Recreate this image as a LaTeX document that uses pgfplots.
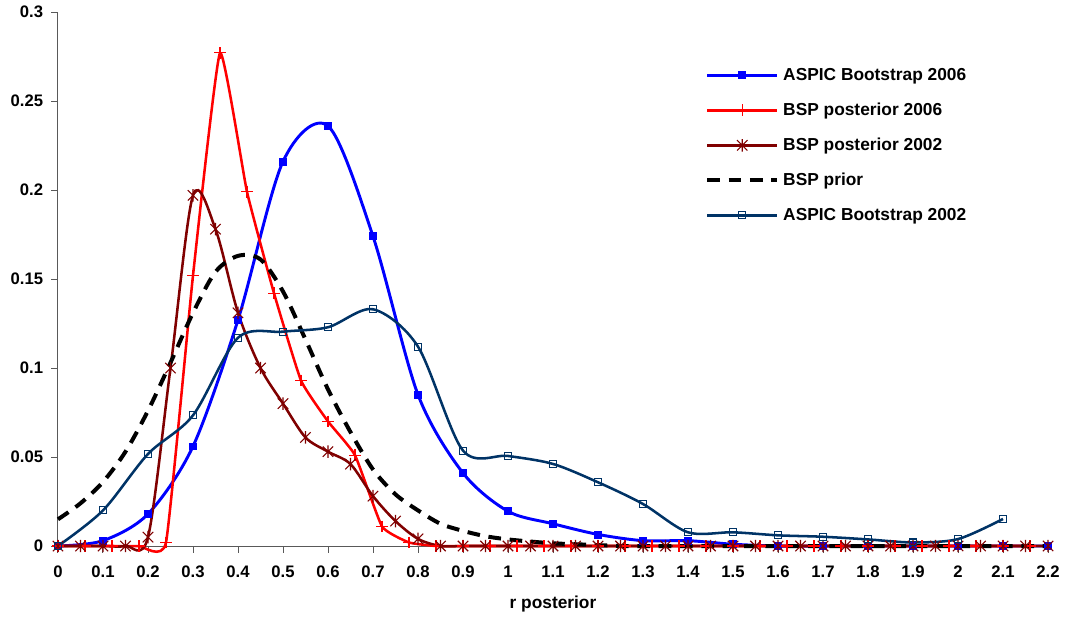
\documentclass[border=0pt]{standalone}
\usepackage{fontspec}
\setmainfont{Liberation Sans}
\usepackage{pgfplots}
\pgfplotsset{compat=1.18}

\definecolor{aspicA}{RGB}{0,0,255}
\definecolor{bspA}{RGB}{255,0,0}
\definecolor{bspB}{RGB}{128,0,0}
\definecolor{aspicB}{RGB}{0,51,102}

% Excel style star: an X with a vertical bar
\pgfdeclareplotmark{xstar}{%
  \pgfpathmoveto{\pgfqpoint{-\pgfplotmarksize}{-\pgfplotmarksize}}%
  \pgfpathlineto{\pgfqpoint{\pgfplotmarksize}{\pgfplotmarksize}}%
  \pgfpathmoveto{\pgfqpoint{-\pgfplotmarksize}{\pgfplotmarksize}}%
  \pgfpathlineto{\pgfqpoint{\pgfplotmarksize}{-\pgfplotmarksize}}%
  \pgfpathmoveto{\pgfqpoint{0pt}{-1.2\pgfplotmarksize}}%
  \pgfpathlineto{\pgfqpoint{0pt}{1.2\pgfplotmarksize}}%
  \pgfusepathqstroke}

\begin{document}
\begin{tikzpicture}
\path[use as bounding box] (-43.5pt,-54.75pt) rectangle (756.75pt,409.5pt);
\begin{axis}[
    at={(0,0)}, anchor=south west,
    scale only axis,
    width=742.5pt, height=400.5pt,
    xmin=0, xmax=2.2, ymin=0, ymax=0.3,
    enlargelimits=false,
    clip=false,
    axis lines*=left,
    axis line style={black!65, line width=0.75pt},
    tick style={black!65, line width=0.75pt},
    tick align=outside,
    major tick length=5pt,
    xtick={0,0.1,0.2,0.3,0.4,0.5,0.6,0.7,0.8,0.9,1,1.1,1.2,1.3,1.4,1.5,1.6,1.7,1.8,1.9,2,2.1,2.2},
    xticklabels={0,0.1,0.2,0.3,0.4,0.5,0.6,0.7,0.8,0.9,1,1.1,1.2,1.3,1.4,1.5,1.6,1.7,1.8,1.9,2,2.1,2.2},
    ytick={0,0.05,0.1,0.15,0.2,0.25,0.3},
    yticklabels={0,0.05,0.1,0.15,0.2,0.25,0.3},
    xticklabel style={font=\fontsize{12.5}{14}\selectfont\bfseries, inner sep=0pt, anchor=north, yshift=-10pt},
    yticklabel style={font=\fontsize{12.5}{14}\selectfont\bfseries, inner sep=0pt, anchor=east, xshift=-6pt},
    xlabel={r posterior},
    xlabel style={at={(rel axis cs:0.5,0)}, anchor=center, yshift=-43.5pt, font=\fontsize{13}{15}\selectfont\bfseries},
    legend cell align=left,
    legend style={
        at={(rel axis cs:0.6535,0.9148)}, anchor=north west,
        draw=none, fill=none, inner sep=0pt, row sep=0pt,
        font=\fontsize{13}{15}\selectfont\bfseries,
        nodes={inner sep=0pt, minimum height=26.25pt},
        /tikz/every odd column/.append style={column sep=3pt},
    },
    legend image code/.code={%
        \draw[mark repeat=2, mark phase=2] plot coordinates {(0pt,0pt) (26.25pt,0pt) (52.5pt,0pt)};},
]

% ASPIC Bootstrap 2006
\addplot[aspicA, line width=2.2pt, smooth, mark=square*, mark size=2.6pt,
    mark options={solid, fill=aspicA, draw=aspicA, line width=0.5pt}]
    coordinates {
    (0,0) (0.1,0.003) (0.2,0.018) (0.3,0.056) (0.4,0.127) (0.5,0.216)
    (0.6,0.236) (0.7,0.174) (0.8,0.085) (0.9,0.041) (1.0,0.0195) (1.1,0.0125)
    (1.2,0.0065) (1.3,0.003) (1.4,0.003) (1.5,0.001) (1.6,0) (1.7,0) (1.8,0)
    (1.9,0) (2.0,0) (2.1,0) (2.2,0)
    };
\addlegendentry{ASPIC Bootstrap 2006}

% BSP posterior 2006
\addplot[bspA, line width=1.9pt, smooth, tension=0.25, mark=+, mark size=4.4pt,
    mark options={solid, line width=0.8pt}]
    coordinates {
    (0,0) (0.06,0) (0.12,0) (0.18,0) (0.24,0.002) (0.30,0.152) (0.36,0.277)
    (0.42,0.199) (0.48,0.142) (0.54,0.093) (0.60,0.070) (0.66,0.051)
    (0.72,0.011) (0.78,0.002) (0.84,0) (0.90,0) (0.96,0) (1.02,0) (1.08,0)
    (1.14,0) (1.20,0) (1.26,0) (1.32,0) (1.38,0) (1.44,0) (1.50,0) (1.56,0)
    (1.62,0) (1.68,0) (1.74,0) (1.80,0) (1.86,0) (1.92,0) (1.98,0) (2.04,0)
    (2.10,0) (2.16,0)
    };
\addlegendentry{BSP posterior 2006}

% BSP posterior 2002
\addplot[bspB, line width=1.9pt, smooth, mark=xstar, mark size=3.9pt,
    mark options={solid, line width=0.8pt}]
    coordinates {
    (0,0) (0.05,0) (0.1,0) (0.15,0) (0.2,0.005) (0.25,0.1) (0.3,0.197)
    (0.35,0.178) (0.4,0.131) (0.45,0.1) (0.5,0.08) (0.55,0.061) (0.6,0.053)
    (0.65,0.046) (0.7,0.028) (0.75,0.014) (0.8,0.004) (0.85,0) (0.9,0)
    (0.95,0) (1.0,0) (1.05,0) (1.1,0) (1.15,0) (1.2,0) (1.25,0) (1.3,0)
    (1.35,0) (1.4,0) (1.45,0) (1.5,0) (1.55,0) (1.6,0) (1.65,0) (1.7,0)
    (1.75,0) (1.8,0) (1.85,0) (1.9,0) (1.95,0) (2.0,0) (2.05,0) (2.1,0)
    (2.15,0) (2.2,0)
    };
\addlegendentry{BSP posterior 2002}

% BSP prior
\addplot[black, line width=3pt, smooth, dash pattern=on 9.5pt off 6.5pt]
    coordinates {
    (0,0.015) (0.05,0.024) (0.1,0.036) (0.15,0.053) (0.2,0.076) (0.25,0.103)
    (0.3,0.131) (0.35,0.154) (0.4,0.163) (0.45,0.161) (0.5,0.143) (0.55,0.116)
    (0.6,0.088) (0.65,0.064) (0.7,0.043) (0.75,0.029) (0.8,0.02) (0.85,0.0125)
    (0.9,0.0085) (0.95,0.0055) (1.0,0.0037) (1.05,0.0025) (1.1,0.0015)
    (1.15,0.001) (1.2,0.0005) (1.25,0) (1.3,0) (1.35,0) (1.4,0) (1.45,0)
    (1.5,0) (1.55,0) (1.6,0) (1.65,0) (1.7,0) (1.75,0) (1.8,0) (1.85,0)
    (1.9,0) (1.95,0) (2.0,0) (2.05,0) (2.1,0) (2.15,0) (2.2,0)
    };
\addlegendentry{BSP prior}

% ASPIC Bootstrap 2002
\addplot[aspicB, line width=1.9pt, smooth, mark=square, mark size=2.6pt,
    mark options={solid, fill=white, draw=aspicB, line width=0.8pt}]
    coordinates {
    (0,0) (0.1,0.02) (0.2,0.0517) (0.3,0.0734) (0.4,0.117) (0.5,0.1204)
    (0.6,0.1229) (0.7,0.133) (0.8,0.112) (0.9,0.0536) (1.0,0.0506)
    (1.1,0.0461) (1.2,0.0358) (1.3,0.0236) (1.4,0.0077) (1.5,0.0077)
    (1.6,0.006) (1.7,0.0052) (1.8,0.0037) (1.9,0.002) (2.0,0.0039)
    (2.1,0.0152)
    };
\addlegendentry{ASPIC Bootstrap 2002}

\end{axis}
\end{tikzpicture}
\end{document}
